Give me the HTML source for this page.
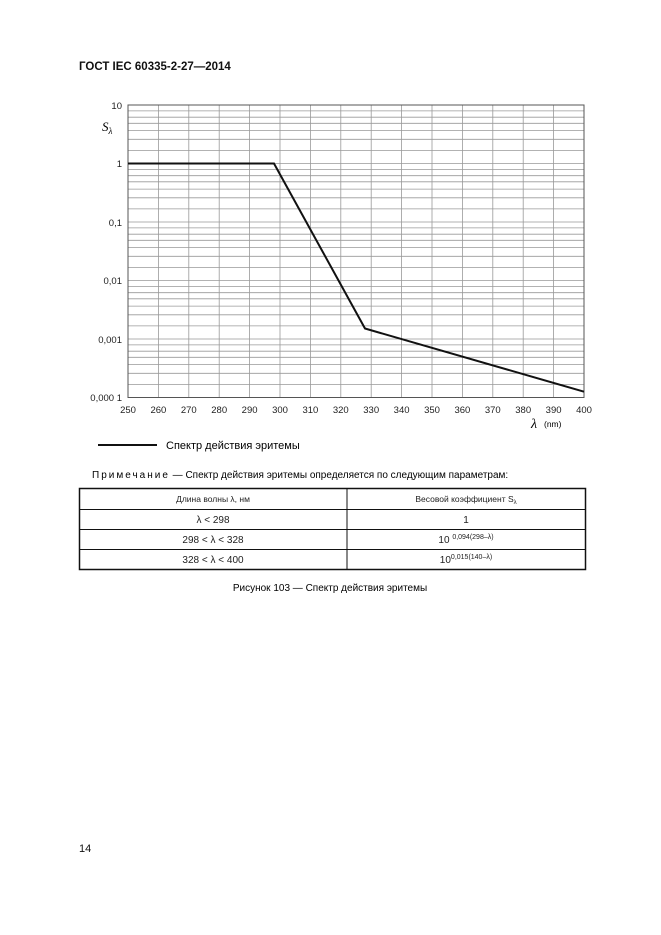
<!DOCTYPE html>
<html><head><meta charset="utf-8"><style>
body{margin:0;background:#fff;width:661px;height:935px;position:relative;font-family:"Liberation Sans",sans-serif;color:#111}
.a{position:absolute;white-space:nowrap}
</style></head><body>
<div class="a" style="left:79px;top:61px;font-size:11.5px;font-weight:bold">ГОСТ IEC 60335-2-27—2014</div>
<svg class="a" style="left:0;top:0" width="661" height="600">
<g stroke="#999" stroke-width="0.8" fill="none">
<path d="M158.4 105V397.5M188.8 105V397.5M219.2 105V397.5M249.6 105V397.5M280 105V397.5M310.4 105V397.5M340.8 105V397.5M371.2 105V397.5M401.6 105V397.5M432 105V397.5M462.4 105V397.5M492.8 105V397.5M523.2 105V397.5M553.6 105V397.5"/>
<path id="dec" d="M128 105h456M128 110.9h456M128 117.2h456M128 123.3h456M128 130.6h456M128 139.3h456M128 150.4h456"/>
<use href="#dec" y="58.5"/><use href="#dec" y="117"/><use href="#dec" y="175.5"/><use href="#dec" y="234"/>
</g>
<rect x="128" y="105" width="456" height="292.5" fill="none" stroke="#555" stroke-width="1"/>
<polyline points="128,163.5 274,163.5 365,328.5 584,391.7" fill="none" stroke="#111" stroke-width="2"/>
<g font-size="9.5" text-anchor="end" fill="#222">
<text x="122" y="109">10</text><text x="122" y="167">1</text><text x="122" y="226">0,1</text><text x="122" y="284">0,01</text><text x="122" y="343">0,001</text><text x="122" y="401">0,000 1</text>
</g>
<g font-size="9.5" text-anchor="middle" fill="#222">
<text x="128" y="413">250</text><text x="158.4" y="413">260</text><text x="188.8" y="413">270</text><text x="219.2" y="413">280</text><text x="249.6" y="413">290</text><text x="280" y="413">300</text><text x="310.4" y="413">310</text><text x="340.8" y="413">320</text><text x="371.2" y="413">330</text><text x="401.6" y="413">340</text><text x="432" y="413">350</text><text x="462.4" y="413">360</text><text x="492.8" y="413">370</text><text x="523.2" y="413">380</text><text x="553.6" y="413">390</text><text x="584" y="413">400</text>
</g>
<text x="102" y="131" font-size="13" font-style="italic" font-family="Liberation Serif,serif">S<tspan font-size="9" dy="3">λ</tspan></text>
<text x="531" y="428" font-size="14" font-style="italic" font-family="Liberation Serif,serif">λ</text>
<text x="544" y="427" font-size="8.5">(nm)</text>
<line x1="98" y1="445" x2="157" y2="445" stroke="#111" stroke-width="2"/>
<text x="166" y="449" font-size="11">Спектр действия эритемы</text>
<text x="92" y="478" font-size="10"><tspan letter-spacing="2">Примечание</tspan> — Спектр действия эритемы определяется по следующим параметрам:</text>
<g stroke="#111" fill="none">
<rect x="79.5" y="488.5" width="506" height="81" stroke-width="1.5"/>
<path d="M347 488.5V569.5M79.5 509.5h506M79.5 529.5h506M79.5 549.5h506" stroke-width="1"/>
</g>
<g font-size="8.5" text-anchor="middle" fill="#222">
<text x="213" y="502">Длина волны λ, нм</text><text x="466" y="502">Весовой коэффициент S<tspan font-size="6" dy="2">λ</tspan></text>
</g>
<g font-size="10" text-anchor="middle" fill="#222">
<text x="213" y="523">λ &lt; 298</text><text x="466" y="523">1</text>
<text x="213" y="543">298 &lt; λ &lt; 328</text><text x="466" y="543">10 <tspan font-size="7" dy="-4">0,094(298–λ)</tspan></text>
<text x="213" y="563">328 &lt; λ &lt; 400</text><text x="466" y="563">10<tspan font-size="7" dy="-4">0,015(140–λ)</tspan></text>
</g>
<text x="330" y="591" font-size="10" text-anchor="middle">Рисунок 103 — Спектр действия эритемы</text>
</svg>
<div class="a" style="left:79px;top:843px;font-size:11px">14</div>
</body></html>
